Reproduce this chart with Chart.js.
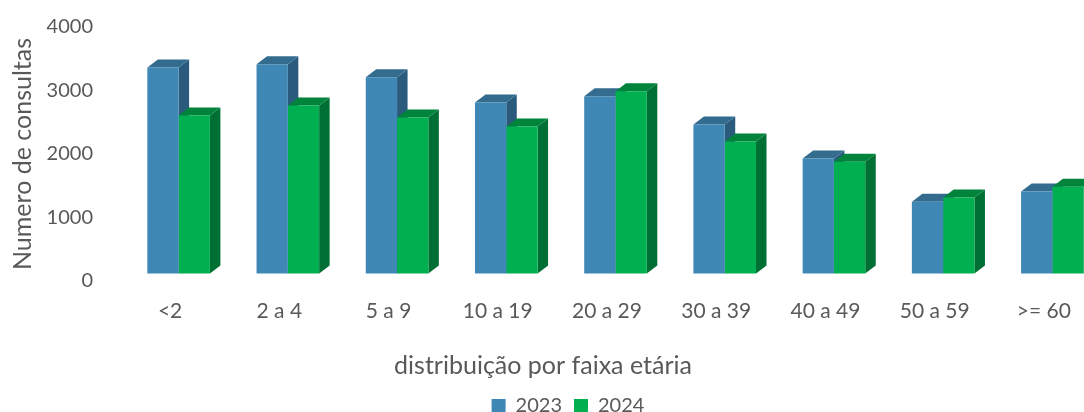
<!DOCTYPE html>
<html>
<head>
<meta charset="utf-8">
<style>
  html, body { margin: 0; padding: 0; background: #fff; overflow: hidden; width: 1084px; height: 412px; }
  canvas { display: block; }
</style>
<script src="https://cdn.jsdelivr.net/npm/chart.js@4/dist/chart.umd.min.js"></script>
</head>
<body>
<canvas id="chart" width="1136" height="412"></canvas>
<script>
const categories = ['<2', '2 a 4', '5 a 9', '10 a 19', '20 a 29', '30 a 39', '40 a 49', '50 a 59', '>= 60'];
const values2023 = [3230, 3282, 3077, 2683, 2778, 2337, 1802, 1124, 1287];
const values2024 = [2478, 2636, 2447, 2305, 2857, 2069, 1754, 1192, 1361];
const axisTicks = [0, 1000, 2000, 3000, 4000];

const FONT = 'Lato, Carlito, sans-serif';
const TEXT = '#595959';

// fake 3D: side and top faces hang off the real bar elements
const depth = { dx: 10.5, dy: 8 };
const faces = [
  { top: '#336c8f', side: '#2a5b7d' },
  { top: '#00843c', side: '#006f33' }
];

const extrude = {
  id: 'extrude',
  // all faces go down first, the library then paints the front faces over them
  beforeDatasetsDraw(chart) {
    const ctx = chart.ctx;
    ctx.save();
    chart.data.datasets.forEach((ds, i) => {
      const colors = faces[i];
      chart.getDatasetMeta(i).data.forEach(bar => {
        const p = bar.getProps(['x', 'y', 'base', 'width'], true);
        const l = p.x - p.width / 2;
        const r = p.x + p.width / 2;
        ctx.fillStyle = colors.side;
        ctx.beginPath();
        ctx.moveTo(r, p.y);
        ctx.lineTo(r + depth.dx, p.y - depth.dy);
        ctx.lineTo(r + depth.dx, p.base - depth.dy);
        ctx.lineTo(r, p.base);
        ctx.closePath();
        ctx.fill();
        ctx.fillStyle = colors.top;
        ctx.beginPath();
        ctx.moveTo(l, p.y);
        ctx.lineTo(l + depth.dx, p.y - depth.dy);
        ctx.lineTo(r + depth.dx, p.y - depth.dy);
        ctx.lineTo(r, p.y);
        ctx.closePath();
        ctx.fill();
      });
    });
    ctx.restore();
  }
};

// title and legend are centred off the plot in the original, which runs past the right edge
const placeBlocks = {
  id: 'placeBlocks',
  afterLayout(chart) {
    const title = chart.titleBlock;
    const titleW = title.right - title.left;
    title.left = 543 - titleW / 2;
    title.right = 543 + titleW / 2;
    title.top = 351;
    title.bottom = title.top + title.height;
    const legend = chart.legend;
    const legendW = legend.right - legend.left;
    legend.left = 568 - legendW / 2;
    legend.right = 568 + legendW / 2;
    legend.top = 384;
    legend.bottom = legend.top + legend.height;
  }
};

new Chart(document.getElementById('chart'), {
  type: 'bar',
  data: {
    labels: categories,
    datasets: [
      { label: '2023', data: values2023, backgroundColor: '#3f87b5', yAxisID: 'y' },
      { label: '2024', data: values2024, backgroundColor: '#00b050', yAxisID: 'y' }
    ]
  },
  plugins: [extrude, placeBlocks],
  options: {
    responsive: false,
    animation: false,
    layout: { padding: { left: 0, right: 29, top: 27, bottom: 0 } },
    datasets: { bar: { barPercentage: 1, categoryPercentage: 0.573 } },
    scales: {
      x: {
        grid: { display: false, drawTicks: false },
        border: { display: false },
        afterFit(scale) { scale.height = 59; },
        ticks: {
          color: TEXT,
          font: { family: FONT, size: 21 },
          padding: 18,
          labelOffset: -8.5,
          maxRotation: 0,
          autoSkip: false
        }
      },
      // bars stand on the front edge, a few px above the printed zero
      y: { display: false, min: -118, max: 3866 },
      yLabels: {
        position: 'left',
        min: 0,
        max: 4000,
        afterBuildTicks(scale) { scale.ticks = axisTicks.map(v => ({ value: v })); },
        afterFit(scale) {
          scale.width = 124;
          scale.paddingTop = 0;
          scale.paddingBottom = 0;
        },
        grid: { display: false, drawTicks: false },
        border: { display: false },
        ticks: {
          color: TEXT,
          font: { family: FONT, size: 20 },
          padding: 31,
          callback: v => String(v)
        },
        title: {
          display: true,
          text: 'Numero de consultas',
          color: TEXT,
          font: { family: FONT, size: 25 },
          padding: { top: 8, bottom: 0 }
        }
      }
    },
    plugins: {
      tooltip: { enabled: false },
      title: {
        display: true,
        position: 'bottom',
        text: 'distribuição por faixa etária',
        color: TEXT,
        font: { family: FONT, size: 25, weight: 'normal' },
        padding: 0
      },
      legend: {
        position: 'bottom',
        labels: {
          color: TEXT,
          font: { family: FONT, size: 20 },
          boxWidth: 14,
          boxHeight: 14,
          padding: 12
        }
      }
    }
  }
});
</script>
</body>
</html>
